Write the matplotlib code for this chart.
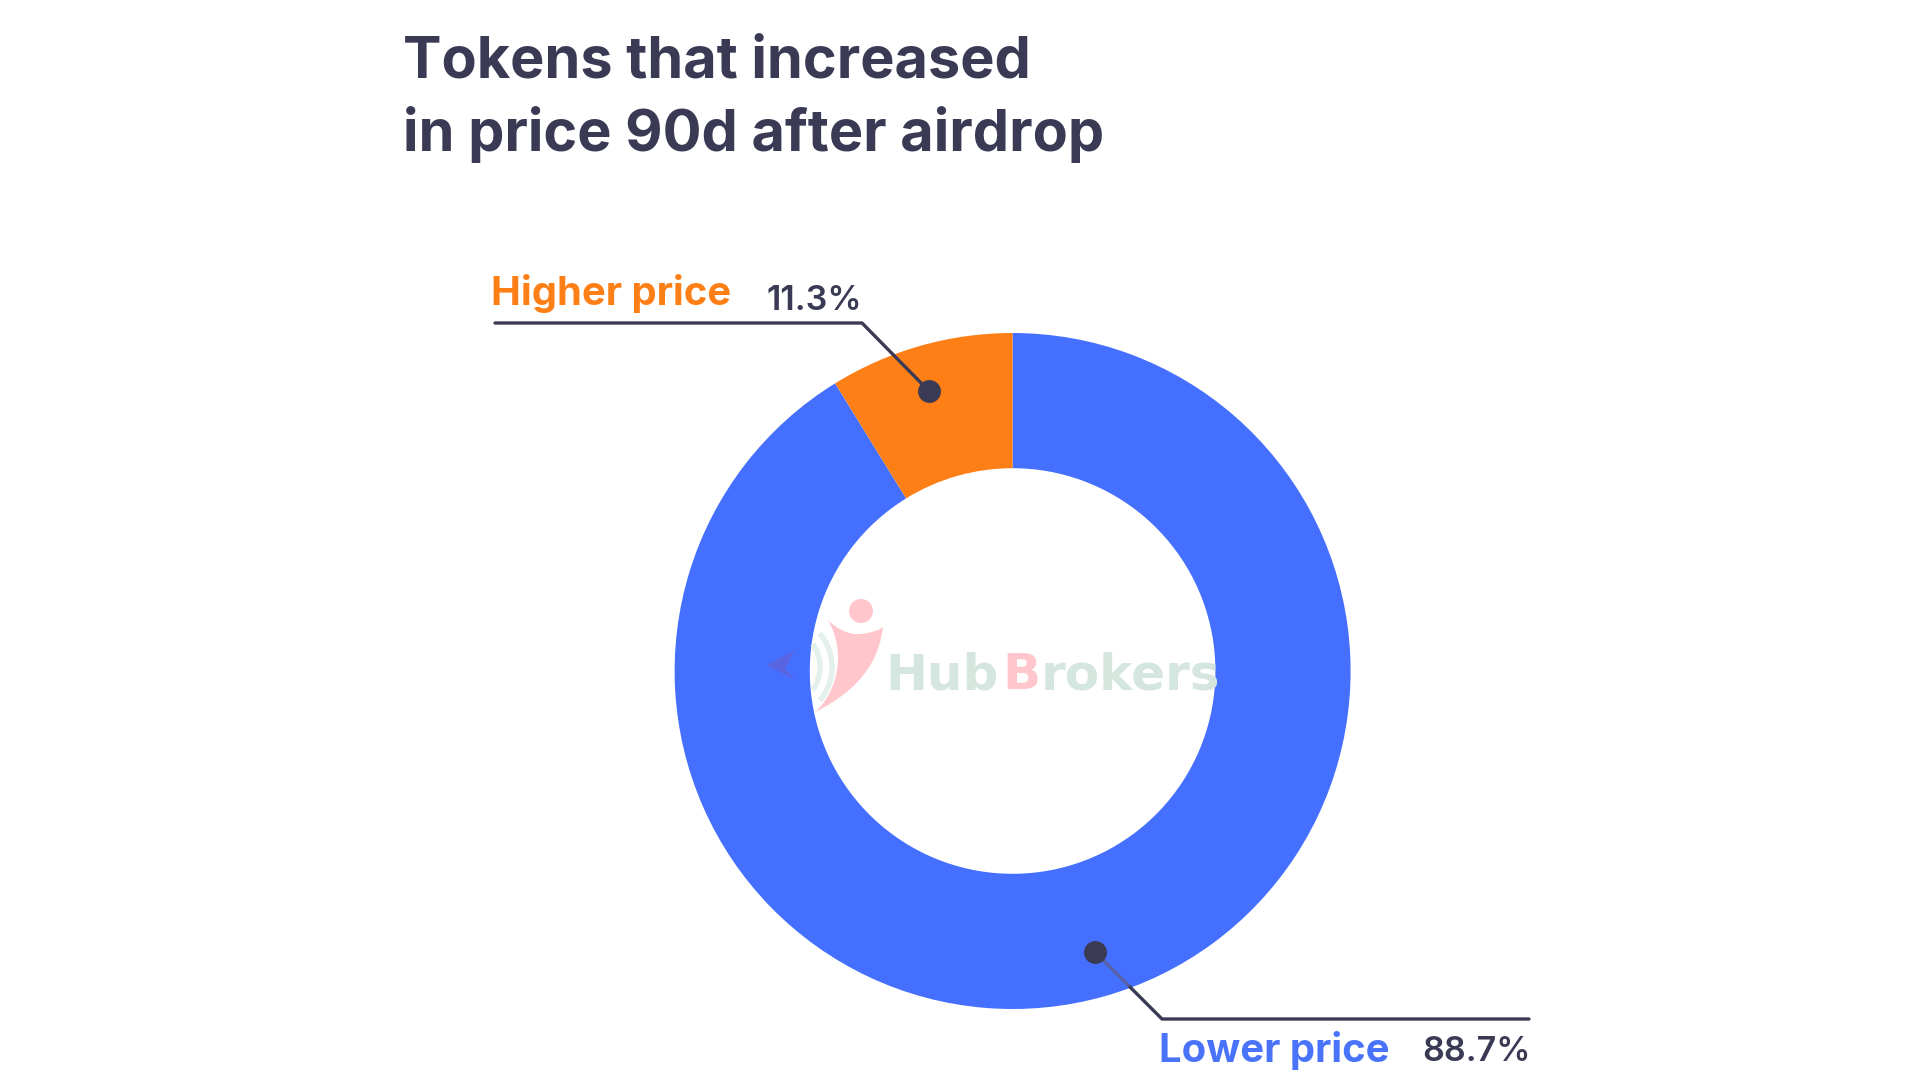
import matplotlib
matplotlib.use("Agg")
import matplotlib.pyplot as plt
from matplotlib.patches import Circle, PathPatch, Polygon, Arc
from matplotlib.path import Path

W, H = 1920, 1080

title_lines = ["Tokens that increased", "in price 90d after airdrop"]
categories = ["Lower price", "Higher price"]
# the labels say 88.7 / 11.3, but the ring in the picture is drawn at about 91.2 / 8.8
labels_pct = ["88.7%", "11.3%"]
ring_shares = [91.2, 8.8]
ring_colors = ["#4570FF", "#FF7F17"]
DARK = "#3A3A55"
PINK = "#FFC6CB"
MINT = "#D5E6DF"

plt.rcParams["font.family"] = ["Inter", "DejaVu Sans"]

fig = plt.figure(figsize=(W / 100, H / 100), dpi=100, facecolor="white")

# donut gets its own axes, placed in pixels
cx, cy, r = 1012.6, 671, 338
ax = fig.add_axes([(cx - r) / W, (H - cy - r) / H, 2 * r / W, 2 * r / H])
ax.pie(ring_shares, colors=ring_colors, startangle=90, counterclock=False, radius=1,
       wedgeprops={"width": 0.4, "linewidth": 0})
ax.set_xlim(-1, 1)
ax.set_ylim(-1, 1)
ax.axis("off")

# overlay in pixel coordinates for the text, leaders and watermark
ov = fig.add_axes([0, 0, 1, 1], facecolor="none")
ov.set_xlim(0, W)
ov.set_ylim(H, 0)
ov.axis("off")

ov.text(403, 78, title_lines[0], fontsize=41.5, fontweight=650, color=DARK, va="baseline")
ov.text(403, 151, title_lines[1], fontsize=41.5, fontweight=650, color=DARK, va="baseline")

# watermark logo and name
ov.add_patch(Circle((861, 611), 12, color=PINK, lw=0))
body = Path([(828, 620), (838, 630), (850, 635), (860, 634), (870, 633), (878, 631), (883, 627),
             (880, 650), (870, 685), (815, 712),
             (835, 695), (848, 655), (828, 620)],
            [Path.MOVETO, Path.CURVE4, Path.CURVE4, Path.CURVE4, Path.CURVE4, Path.CURVE4, Path.CURVE4,
             Path.CURVE4, Path.CURVE4, Path.CURVE4,
             Path.CURVE4, Path.CURVE4, Path.CURVE4])
ov.add_patch(PathPatch(body, facecolor=PINK, lw=0))
ov.add_patch(Arc((780, 667), 80, 80, theta1=-35, theta2=35, color="#E4F0EB", lw=4))
ov.add_patch(Arc((780, 667), 104, 104, theta1=-40, theta2=40, color="#E4F0EB", lw=4))
ov.add_patch(Polygon([(767, 665), (795, 650), (785, 668), (795, 680)], closed=True,
                     color="#6A5CC8", alpha=0.55, lw=0))
ov.text(885, 689, "Hub", fontsize=36, fontweight="bold", family="DejaVu Sans", color=MINT, va="baseline")
ov.text(1002, 689, "B", fontsize=36, fontweight="bold", family="DejaVu Sans", color=PINK, va="baseline")
ov.text(1041, 689, "rokers", fontsize=36, fontweight="bold", family="DejaVu Sans", color=MINT, va="baseline")

# Higher price leader
ov.plot([495, 862, 929], [323, 323, 391], color=DARK, lw=2.4, solid_capstyle="round")
ov.plot([929], [391], "o", color=DARK, ms=16.5, mew=0)
ov.text(491, 305, categories[1], fontsize=28.8, fontweight=650, color=ring_colors[1], va="baseline")
ov.text(767, 310, labels_pct[1], fontsize=24.5, fontweight=600, color=DARK, va="baseline")

# Lower price leader, fainter where it crosses the blue ring
ov.plot([1095, 1130], [952, 987], color="#56639E", lw=2.2, solid_capstyle="butt")
ov.plot([1130, 1162, 1529], [987, 1019, 1019], color=DARK, lw=2.4, solid_capstyle="round")
ov.plot([1095], [952], "o", color=DARK, ms=16.5, mew=0)
ov.text(1159, 1062, categories[0], fontsize=28.8, fontweight=650, color="#4873FA", va="baseline")
ov.text(1422, 1061, labels_pct[0], fontsize=24.5, fontweight=600, color=DARK, va="baseline")

fig.savefig("out.png", dpi=100)
